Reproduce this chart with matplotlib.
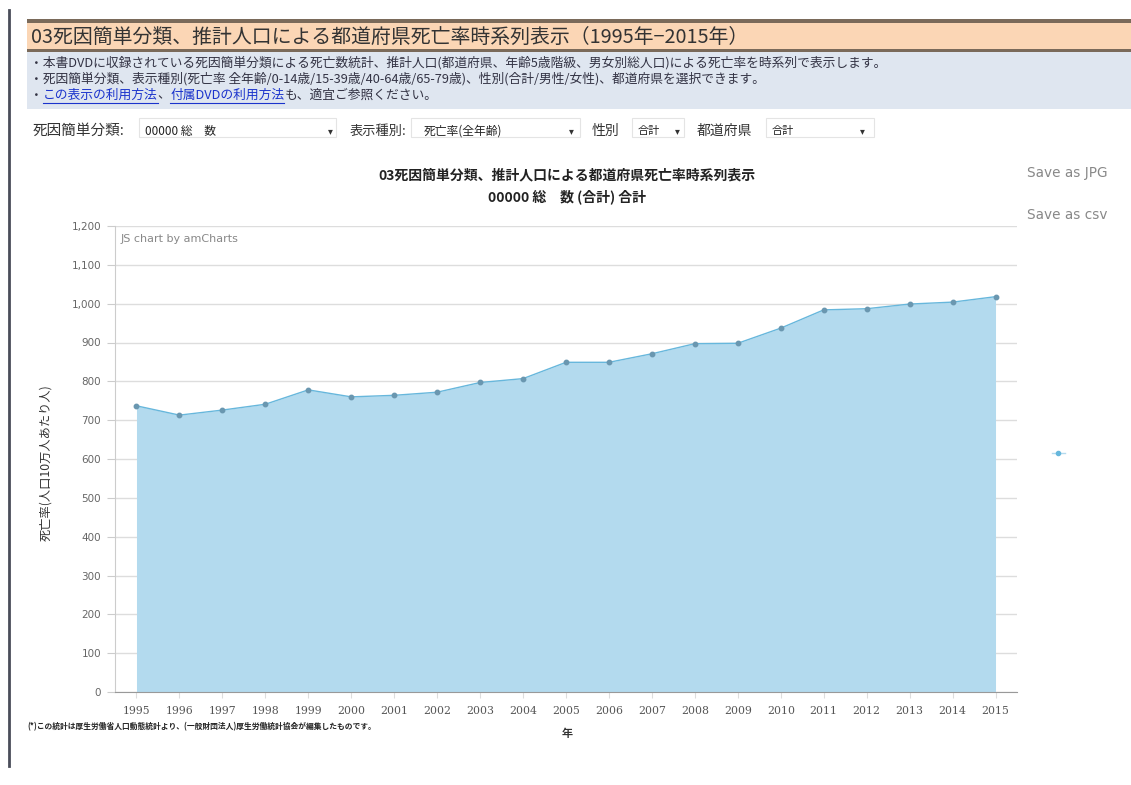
import matplotlib
matplotlib.use("Agg")
import matplotlib.pyplot as plt
from matplotlib.patches import Rectangle
from matplotlib.lines import Line2D

plt.rcParams['font.family'] = ['Noto Sans CJK JP', 'DejaVu Sans']

# ---- data ----
years = [str(y) for y in range(1995, 2016)]
rates = [737, 713, 726, 741, 778, 760, 764, 772, 797, 807, 849,
         849, 871, 897, 898, 937, 984, 987, 999, 1004, 1018]
yticks = list(range(0, 1201, 100))

page_title = "03死因簡単分類、推計人口による都道府県死亡率時系列表示（1995年−2015年）"
info_lines = [
    "・本書DVDに収録されている死因簡単分類による死亡数統計、推計人口(都道府県、年齢5歳階級、男女別総人口)による死亡率を時系列で表示します。",
    "・死因簡単分類、表示種別(死亡率 全年齢/0-14歳/15-39歳/40-64歳/65-79歳)、性別(合計/男性/女性)、都道府県を選択できます。",
]
chart_title = "03死因簡単分類、推計人口による都道府県死亡率時系列表示"
chart_subtitle = "00000 総　数 (合計) 合計"
ylabel = "死亡率(人口10万人あたり人)"
xlabel = "年"
footnote = "(*)この統計は厚生労働省人口動態統計より、(一般財団法人)厚生労働統計協会が編集したものです。"

W, H = 1131, 785
fig = plt.figure(figsize=(W / 100, H / 100), dpi=100)
fig.patch.set_facecolor('white')


def fx(px):
    return px / W


def fy(py):
    return 1 - py / H


def rect(x0, y0, x1, y1, **kw):
    fig.add_artist(Rectangle((fx(x0), fy(y1)), fx(x1) - fx(x0), fy(y0) - fy(y1),
                             transform=fig.transFigure, **kw))


def txt(x, y, s, **kw):
    kw.setdefault('va', 'center')
    return fig.text(fx(x), fy(y), s, **kw)


# left page border
fig.add_artist(Line2D([fx(8.5), fx(8.5)], [fy(10), fy(766)], transform=fig.transFigure,
                      color='#4a4d5a', lw=2))

# title bar
rect(27, 20, W, 52, facecolor='#fbd6b5', edgecolor='none')
rect(27, 19, W, 23, facecolor='#7a6a5a', edgecolor='none')
rect(27, 49, W, 52, facecolor='#7a6a5a', edgecolor='none')
txt(31, 37, page_title, fontsize=14.3, color='#333333')

# info box
rect(27, 52, W, 109, facecolor='#dfe6f0', edgecolor='none')
info_fs = 9.2
txt(30, 63, info_lines[0], fontsize=info_fs, color='#333344')
txt(30, 79, info_lines[1], fontsize=info_fs, color='#333344')

renderer = fig.canvas.get_renderer()
xcur = 30
parts = [("・", '#333344', False), ("この表示の利用方法", '#1a33cc', True), ("、", '#333344', False),
         ("付属DVDの利用方法", '#1a33cc', True), ("も、適宜ご参照ください。", '#333344', False)]
for s, c, ul in parts:
    t = txt(xcur, 95, s, fontsize=info_fs, color=c)
    bb = t.get_window_extent(renderer)
    if ul:
        fig.add_artist(Line2D([fx(xcur), fx(xcur + bb.width)], [fy(103), fy(103)],
                              transform=fig.transFigure, color=c, lw=0.8))
    xcur += bb.width

# controls row
cy = 131
txt(33, cy, "死因簡単分類:", fontsize=10.5, color='#333333')
rect(139, 118, 336, 137, facecolor='white', edgecolor='#e4e4e4', lw=0.8)
txt(145, cy, "00000 総　数", fontsize=8.5, color='#222222')
txt(330, cy, "▾", fontsize=7, color='#333333', ha='center')
txt(350, cy, "表示種別:", fontsize=9.5, color='#333333')
rect(411, 118, 580, 137, facecolor='white', edgecolor='#e4e4e4', lw=0.8)
txt(424, cy, "死亡率(全年齢)", fontsize=8.5, color='#222222')
txt(571, cy, "▾", fontsize=7, color='#333333', ha='center')
txt(592, cy, "性別", fontsize=10, color='#333333')
rect(632, 118, 684, 137, facecolor='white', edgecolor='#e4e4e4', lw=0.8)
txt(638, cy, "合計", fontsize=8, color='#222222')
txt(677, cy, "▾", fontsize=7, color='#333333', ha='center')
txt(697, cy, "都道府県", fontsize=10, color='#333333')
rect(766, 118, 874, 137, facecolor='white', edgecolor='#e4e4e4', lw=0.8)
txt(772, cy, "合計", fontsize=8, color='#222222')
txt(862, cy, "▾", fontsize=7, color='#333333', ha='center')

# chart titles
txt(567, 175, chart_title, fontsize=10, fontweight='bold', color='#222222', ha='center')
txt(567, 197, chart_subtitle, fontsize=10, fontweight='bold', color='#222222', ha='center')

# export menu
txt(1027, 173, "Save as JPG", fontsize=9.8, color='#888888', family='DejaVu Sans')
txt(1027, 215, "Save as csv", fontsize=9.8, color='#888888', family='DejaVu Sans')

# plot area
L, R, T, B = 115, 1017, 226, 692
ax = fig.add_axes([fx(L), fy(B), fx(R) - fx(L), fy(T) - fy(B)])
x = list(range(len(years)))
ax.fill_between(x, rates, 0, color='#b3daee', lw=0, zorder=2)
ax.plot(x, rates, color='#67b7dc', lw=1, zorder=3)
ax.plot(x, rates, 'o', ms=3.2, color='#6a97b0', zorder=4)
ax.set_xlim(-0.5, len(years) - 0.5)
ax.set_ylim(0, 1200)
ax.set_yticks(yticks)
ax.set_yticklabels([f"{v:,}" for v in yticks], family='DejaVu Sans', fontsize=7.5, color='#666666')
ax.set_xticks(x)
ax.set_xticklabels(years, family='DejaVu Serif', fontsize=7.8, color='#555555')
ax.grid(axis='y', color='#dddddd', lw=1, zorder=1)
ax.set_axisbelow(True)
for s in ['top', 'right']:
    ax.spines[s].set_visible(False)
ax.spines['left'].set_color('#cccccc')
ax.spines['bottom'].set_color('#999999')
ax.tick_params(axis='y', length=6, color='#cccccc', pad=4)
ax.tick_params(axis='x', length=4, color='#dddddd', pad=6)
ax.text(0.006, 0.972, "JS chart by amCharts", transform=ax.transAxes, fontsize=8,
        color='#888888', family='DejaVu Sans', va='center')

txt(46, 463, ylabel, fontsize=8.8, color='#333333', rotation=90, ha='center')
txt(567, 734, xlabel, fontsize=8, fontweight='bold', color='#333333', ha='center')
txt(27, 727, footnote, fontsize=5.6, fontweight='bold', color='#222222')

# legend marker
fig.add_artist(Line2D([fx(1052), fx(1065)], [fy(453), fy(453)], transform=fig.transFigure,
                      color='#b3daee', lw=1))
fig.add_artist(Line2D([fx(1058)], [fy(453)], transform=fig.transFigure,
                      marker='o', ms=3, color='#67b7dc', lw=0))

fig.savefig("out.png", dpi=100, facecolor='white')
